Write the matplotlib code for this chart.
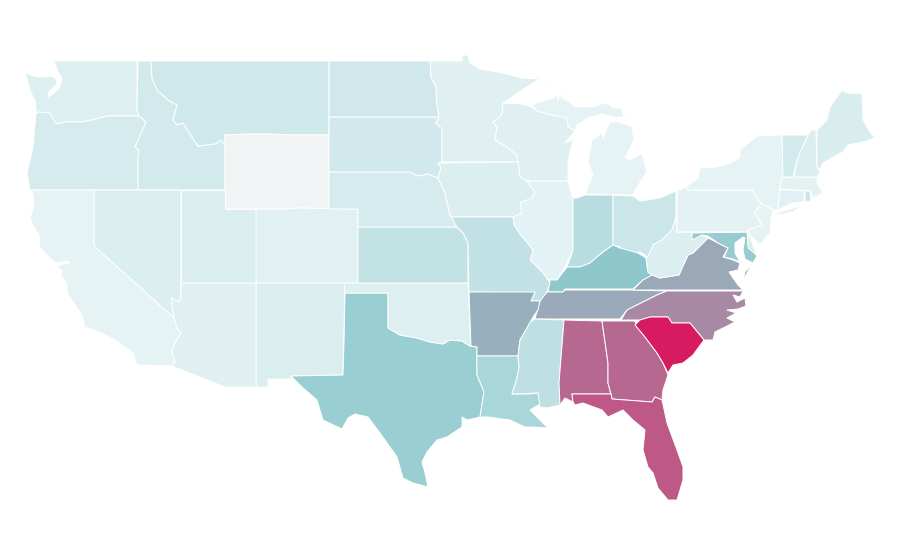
import matplotlib
matplotlib.use("Agg")
import matplotlib.pyplot as plt
from matplotlib.colors import LinearSegmentedColormap, Normalize
from matplotlib.patches import Polygon

# State outlines
WA = [(54,61),(137,61),(137,110),(139,116),(108,116),(92,120),(80,122),(66,122),(56,124),(52,117),(50,113),(38,112),(36,114),(36,108),(35,100),(33,97),(30,90),(28,82),(25,73),(37,77),(47,77),(52,76),(56,79),(57,85),(49,91),(48,97),(53,94),(60,87),(62,78),(58,72),(56,66)]
OR = [(36,114),(38,112),(50,113),(52,117),(56,124),(66,122),(80,122),(92,120),(108,116),(139,116),(146,122),(135,147),(139,150),(138,157),(138,190),(30,190),(27,173),(30,160),(33,147),(35,125)]
ID = [(138,61),(151,61),(152,78),(157,90),(168,100),(177,105),(173,120),(177,125),(183,123),(192,137),(198,146),(215,144),(221,140),(225,145),(225,190),(138,190),(138,157),(139,150),(135,147),(146,122),(139,116),(137,110)]
MT = [(151,61),(329,61),(329,135),(290,135),(270,134),(250,134),(225,135),(225,145),(221,140),(215,144),(198,146),(192,137),(183,123),(177,125),(173,120),(177,105),(168,100),(157,90),(152,78)]
WY = [(225,135),(250,134),(270,134),(290,135),(329,135),(329,209),(300,208),(286,209),(256,209),(225,209)]
NV = [(94,190),(181,190),(181,298),(178,302),(172,298),(172,305),(174,318),(94,246)]
CA = [(32,190),(94,190),(94,246),(174,318),(177,328),(181,333),(174,345),(172,350),(175,362),(172,366),(137,365),(133,353),(118,342),(100,332),(85,327),(82,315),(75,305),(67,293),(67,284),(60,273),(63,272),(58,267),(60,265),(70,263),(68,261),(56,263),(50,258),(40,248),(39,235),(33,225),(30,218),(34,205),(33,195)]
UT = [(181,190),(225,190),(225,209),(256,209),(256,283),(181,283)]
CO = [(256,209),(286,209),(300,208),(358,209),(358,283),(256,283)]
NM = [(256,283),(345,283),(343,375),(291,376),(292,379),(268,379),(268,387),(256,387)]
AZ = [(181,283),(256,283),(256,387),(225,387),(172,366),(175,362),(172,350),(174,345),(181,333),(177,328),(174,318),(172,305),(172,298),(178,302),(181,298)]
TX = [(345,293),(388,293),(388,328),(400,335),(417,338),(430,342),(443,344),(450,340),(462,341),(470,346),(477,347),(477,375),(484,392),(480,417),(467,420),(462,417),(462,427),(447,437),(437,440),(427,452),(422,462),(425,473),(428,487),(413,483),(403,478),(397,457),(380,433),(368,417),(355,414),(348,418),(342,429),(323,420),(317,400),(302,387),(291,376),(343,375),(344,343)]
OK = [(344,283),(468,283),(471,346),(470,346),(462,341),(450,340),(443,344),(430,342),(417,338),(400,335),(388,328),(388,293),(345,293)]
KS = [(358,227),(457,227),(463,233),(468,243),(468,283),(358,283)]
NE = [(329,172),(342,172),(410,172),(418,176),(428,174),(438,178),(445,193),(450,215),(457,227),(358,227),(358,209),(329,209)]
SD = [(329,117),(439,117),(436,123),(442,129),(442,162),(438,163),(441,168),(438,178),(428,174),(418,176),(410,172),(342,172),(329,172)]
ND = [(329,61),(430,61),(431,77),(436,87),(437,105),(439,117),(329,117)]
MN = [(430,61),(462,61),(462,55),(468,55),(470,63),(480,69),(503,73),(522,78),(540,79),(525,88),(505,102),(503,103),(502,115),(493,122),(497,128),(495,140),(507,147),(517,155),(518,162),(442,162),(442,129),(436,123),(439,117),(437,105),(436,87),(431,77)]
WI = [(503,103),(522,104),(532,107),(537,111),(552,115),(567,118),(568,127),(572,129),(575,131),(565,143),(572,140),(580,131),(573,140),(570,152),(568,163),(568,181),(527,181),(520,177),(518,162),(517,155),(507,147),(495,140),(497,128),(493,122),(502,115)]
IA = [(438,163),(518,162),(520,177),(527,181),(535,192),(532,198),(520,203),(522,213),(513,217),(453,217),(450,215),(445,193),(438,178),(441,168)]
IL = [(527,181),(568,181),(572,195),(573,198),(573,250),(565,267),(557,280),(548,280),(543,273),(530,260),(533,250),(525,240),(522,237),(514,225),(513,217),(522,213),(520,203),(532,198),(535,192)]
IN = [(573,198),(577,198),(585,195),(613,195),(613,245),(603,252),(590,263),(580,267),(567,267),(573,250)]
OH = [(613,195),(633,196),(640,201),(660,198),(676,191),(676,217),(672,230),(662,240),(653,245),(648,257),(640,252),(628,253),(620,247),(613,245)]
MI_LOWER = [(585,194),(593,175),(588,162),(592,140),(602,133),(603,138),(610,122),(620,122),(632,127),(634,140),(625,158),(630,160),(642,153),(647,172),(635,190),(633,195)]
MI_UPPER = [(532,105),(545,100),(553,98),(557,95),(558,100),(560,93),(568,90),(560,95),(562,98),(570,102),(575,107),(592,107),(605,103),(610,105),(613,108),(622,108),(623,115),(630,117),(612,117),(602,114),(588,118),(577,125),(575,130),(572,129),(568,127),(567,118),(552,115),(537,111)]
MI_KEWEENAW = [(548,82),(557,78),(556,80),(549,83)]
KY = [(548,292),(550,280),(557,280),(567,267),(580,267),(590,263),(603,252),(613,245),(620,248),(638,253),(646,258),(648,272),(652,275),(643,280),(633,289),(565,289),(563,292)]
TN = [(565,290),(633,290),(667,291),(657,295),(647,300),(627,310),(620,319),(535,319),(540,300),(547,292),(563,292)]
VA = [(633,290),(643,280),(652,275),(660,278),(679,275),(688,255),(693,253),(708,238),(718,243),(728,248),(723,257),(733,260),(740,263),(738,270),(729,272),(733,278),(738,285),(743,290)]
VA_SHORE = [(753,263),(747,273),(743,281),(745,272)]
WV = [(646,258),(648,257),(653,245),(662,240),(672,230),(676,217),(677,232),(692,232),(692,240),(702,235),(708,238),(693,253),(688,255),(679,275),(660,278),(652,275),(648,272)]
MD = [(692,233),(747,232),(748,245),(757,256),(753,263),(745,259),(743,250),(745,238),(743,237),(735,243),(735,253),(740,262),(733,259),(724,257),(728,248),(718,243),(708,236),(702,235),(692,240)]
DE = [(748,231),(750,238),(757,255),(748,248)]
PA = [(677,191),(687,186),(687,190),(752,190),(757,198),(761,203),(755,213),(762,225),(753,232),(677,232)]
NY = [(687,186),(698,178),(700,168),(717,167),(733,162),(740,157),(740,150),(757,136),(782,135),(783,157),(783,177),(780,188),(778,210),(773,210),(761,203),(757,198),(752,190),(687,190)]
NY_LONG_ISLAND = [(773,214),(790,209),(803,205),(793,212),(777,215)]
NJ = [(761,203),(773,210),(771,220),(770,233),(760,245),(750,235),(748,230),(762,225),(755,213)]
CT = [(780,190),(804,190),(804,202),(792,203),(778,210)]
RI = [(805,191),(810,191),(811,201),(805,202)]
MA = [(782,177),(818,177),(817,183),(823,193),(813,198),(810,191),(780,189)]
VT = [(782,135),(808,135),(802,148),(797,160),(793,177),(783,177)]
NH = [(811,130),(816,130),(817,167),(820,172),(818,177),(794,177),(797,160),(802,148),(808,135)]
ME = [(817,130),(827,120),(830,107),(842,90),(847,93),(862,94),(863,120),(870,132),(875,138),(863,142),(848,145),(843,152),(833,157),(823,163),(820,169),(817,167)]
MO = [(453,217),(513,217),(514,225),(522,237),(525,240),(533,250),(530,260),(543,273),(548,280),(550,283),(547,292),(540,301),(531,301),(535,293),(469,292),(468,243),(463,233),(457,227),(450,215)]
AR = [(469,292),(535,292),(531,301),(540,301),(538,310),(533,317),(527,328),(520,340),(518,356),(477,356),(477,347),(471,346)]
LA = [(477,356),(518,356),(519,367),(517,378),(512,394),(530,394),(540,393),(542,403),(530,410),(537,417),(548,428),(533,427),(525,427),(510,420),(488,417),(480,417),(484,392),(477,375)]
MS = [(535,319),(564,320),(559,383),(560,405),(547,408),(540,407),(538,393),(512,394),(517,378),(519,367),(518,356),(520,340),(527,328),(530,322)]
AL = [(564,320),(602,321),(608,363),(608,383),(611,394),(572,394),(573,402),(565,398),(560,405),(559,383)]
GA = [(602,321),(635,321),(637,327),(645,337),(657,353),(663,363),(668,375),(663,390),(662,400),(655,397),(652,402),(612,399),(611,394),(608,383),(608,363)]
SC = [(635,325),(640,320),(650,317),(668,317),(672,323),(690,323),(704,340),(693,355),(683,363),(673,365),(668,373),(663,363),(657,353),(645,337)]
NC = [(667,291),(743,291),(740,297),(733,295),(737,302),(745,298),(746,306),(738,309),(727,310),(736,313),(727,318),(735,322),(725,327),(715,332),(713,340),(704,340),(690,323),(672,323),(668,317),(650,317),(640,320),(621,320),(627,310),(647,300),(657,295)]
FL = [(572,394),(611,394),(612,399),(652,402),(655,397),(662,400),(667,423),(677,450),(683,467),(683,480),(677,500),(668,500),(658,488),(653,473),(648,467),(643,450),(645,430),(633,420),(623,410),(608,417),(602,410),(583,403),(575,405),(573,402)]

# Estimated values; None means no data
WA_V, OR_V, ID_V, MT_V, WY_V = 3.6, 5.9, 7.3, 8.3, None
NV_V, CA_V, UT_V, CO_V, NM_V, AZ_V = 4.6, 1, 5, 2.6, 5, 3
TX_V, OK_V, KS_V, NE_V, SD_V, ND_V = 26, 3.6, 12.5, 5.9, 7.6, 8
MN_V, WI_V, IA_V, IL_V, IN_V, OH_V, MI_V = 3, 3, 4.3, 1.6, 16, 10, 1
KY_V, TN_V, VA_V, WV_V, MD_V, DE_V = 30, 42, 43, 4.6, 27, 5
PA_V, NY_V, NJ_V, CT_V, RI_V, MA_V, VT_V, NH_V, ME_V = 1.3, 1, 1, 2.6, 9, 1.3, 7.3, 4.6, 5.3
MO_V, AR_V, LA_V, MS_V, AL_V, GA_V, SC_V, NC_V, FL_V = 13, 40, 21, 14, 69, 69, 100, 56, 75

shapes = [
    (WA, WA_V), (OR, OR_V), (ID, ID_V), (MT, MT_V), (WY, WY_V), (NV, NV_V), (CA, CA_V),
    (UT, UT_V), (CO, CO_V), (NM, NM_V), (AZ, AZ_V), (TX, TX_V), (OK, OK_V), (KS, KS_V),
    (NE, NE_V), (SD, SD_V), (ND, ND_V), (MN, MN_V), (WI, WI_V), (IA, IA_V), (IL, IL_V),
    (IN, IN_V), (OH, OH_V), (MI_LOWER, MI_V), (MI_UPPER, MI_V), (MI_KEWEENAW, MI_V),
    (KY, KY_V), (TN, TN_V), (VA, VA_V), (VA_SHORE, VA_V), (WV, WV_V), (MD, MD_V), (DE, DE_V),
    (PA, PA_V), (NY, NY_V), (NY_LONG_ISLAND, NY_V), (NJ, NJ_V), (CT, CT_V), (RI, RI_V),
    (MA, MA_V), (VT, VT_V), (NH, NH_V), (ME, ME_V), (MO, MO_V), (AR, AR_V), (LA, LA_V),
    (MS, MS_V), (AL, AL_V), (GA, GA_V), (NC, NC_V), (FL, FL_V), (SC, SC_V),
]

cmap = LinearSegmentedColormap.from_list(
    "teal_crimson", [(0.0, "#e8f4f6"), (0.3, "#8dc8cc"), (1.0, "#d81b60")])
norm = Normalize(0, 100)
NO_DATA = "#f2f3f5"

fig = plt.figure(figsize=(9, 5.6), dpi=100)
ax = fig.add_axes([0, 0, 1, 1])
ax.set_xlim(0, 900)
ax.set_ylim(560, 0)
ax.axis("off")

for outline, value in shapes:
    face = NO_DATA if value is None else cmap(norm(value))
    ax.add_patch(Polygon(outline, closed=True, facecolor=face,
                         edgecolor="white", linewidth=0.7, joinstyle="round"))

fig.savefig("out.png", dpi=100, facecolor="white")
